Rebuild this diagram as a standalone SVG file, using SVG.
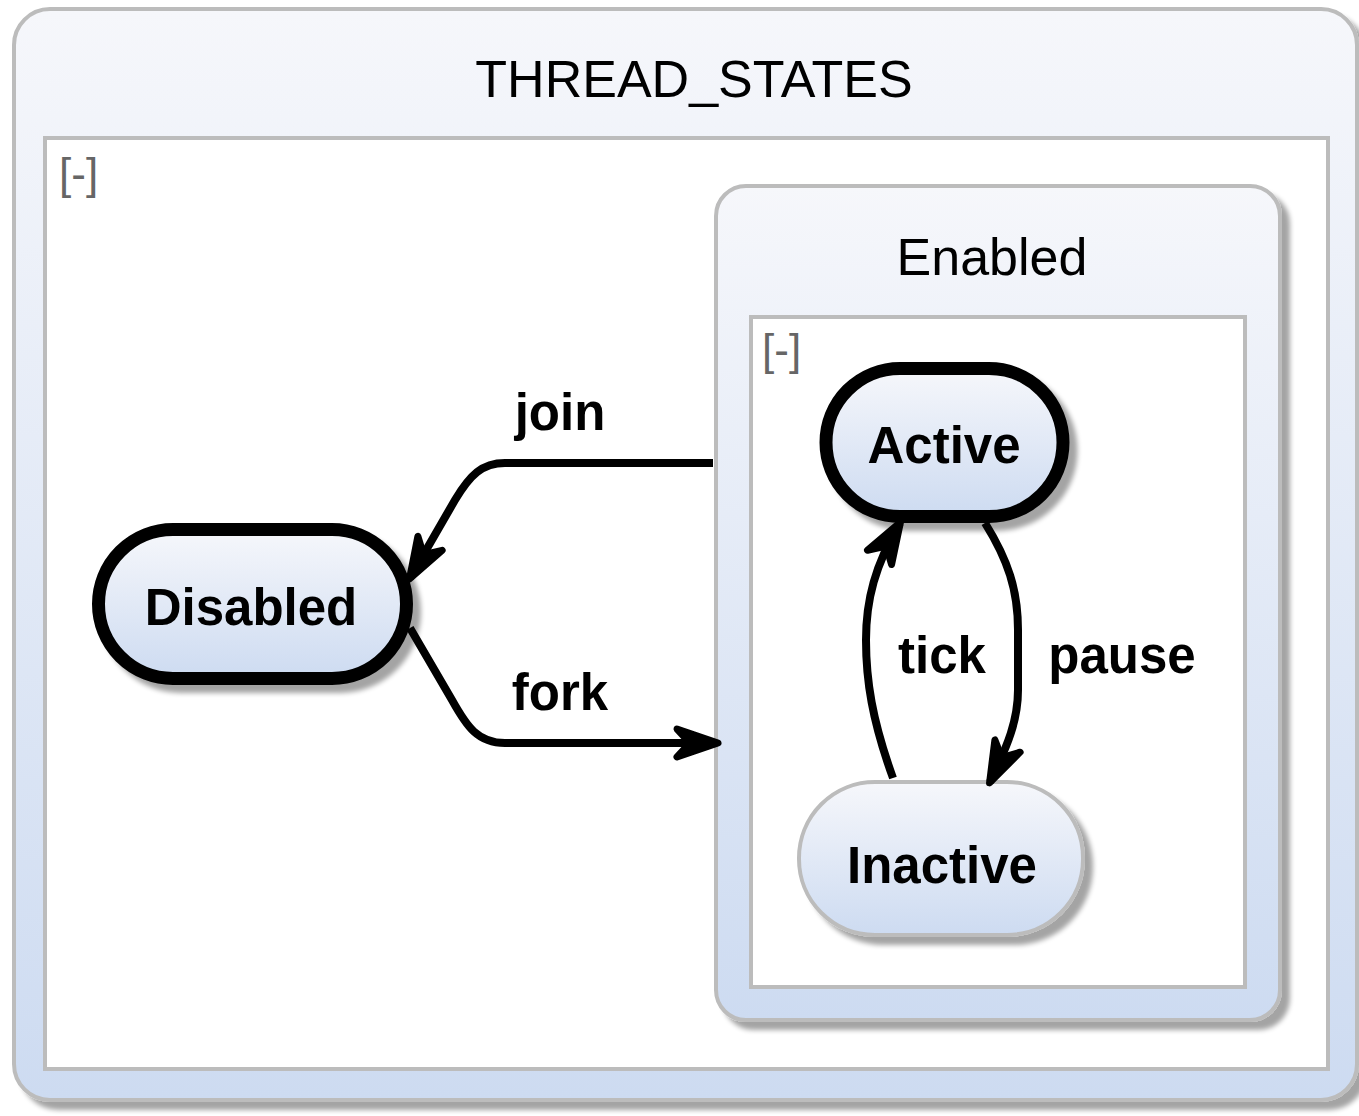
<svg xmlns="http://www.w3.org/2000/svg" width="1359" height="1116" viewBox="0 0 1359 1116">
  <defs>
    <linearGradient id="fillBlue" x1="0" y1="0" x2="0" y2="1">
      <stop offset="0" stop-color="#f6f7fb"/>
      <stop offset="1" stop-color="#cddbf1"/>
    </linearGradient>
    <filter id="shadow" x="-10%" y="-10%" width="130%" height="130%">
      <feGaussianBlur in="SourceAlpha" stdDeviation="2.5"/>
      <feOffset dx="8" dy="8" result="off"/>
      <feComponentTransfer>
        <feFuncA type="linear" slope="0.36"/>
      </feComponentTransfer>
      <feMerge>
        <feMergeNode/>
        <feMergeNode in="SourceGraphic"/>
      </feMerge>
    </filter>
    <marker id="arrow" markerUnits="userSpaceOnUse" orient="auto" refX="40" refY="0" markerWidth="60" markerHeight="40" overflow="visible">
      <path d="M41,0 L0,-14 L13,0 L0,14 Z" fill="#000" stroke="#000" stroke-width="7" stroke-linejoin="round"/>
    </marker>
    <style>
      .container { fill: url(#fillBlue); stroke: #bcbcbc; stroke-width: 4; }
      .region { fill: #ffffff; stroke: #bcbcbc; stroke-width: 4; }
      .state { fill: url(#fillBlue); stroke: #000; stroke-width: 13; }
      .state-plain { fill: url(#fillBlue); stroke: #bcbcbc; stroke-width: 4; }
      .title { font-family: "Liberation Sans", Arial, sans-serif; font-size: 52px; fill: #000; text-anchor: middle; }
      .toggle { font-family: "Liberation Sans", Arial, sans-serif; font-size: 44px; fill: #666; }
      .label { font-family: "Liberation Sans", Arial, sans-serif; font-size: 51px; font-weight: bold; fill: #000; text-anchor: middle; }
      .edge { fill: none; stroke: #000; stroke-width: 8; marker-end: url(#arrow); }
    </style>
  </defs>

  <!-- outer composite state -->
  <g id="thread-states">
    <rect class="container" x="14" y="9" width="1343" height="1091" rx="36" ry="36" filter="url(#shadow)"/>
    <text class="title" x="694" y="97">THREAD_STATES</text>
    <rect class="region" x="45" y="138" width="1283" height="931"/>
    <text class="toggle" x="59" y="189">[-]</text>
  </g>

  <!-- Enabled composite state -->
  <g id="enabled">
    <rect class="container" x="716" y="186" width="564" height="834" rx="30" ry="30" filter="url(#shadow)"/>
    <text class="title" x="992" y="275">Enabled</text>
    <rect class="region" x="751" y="317" width="494" height="670"/>
    <text class="toggle" x="762" y="365">[-]</text>
  </g>

  <g id="disabled">
    <rect class="state" x="98.5" y="529.5" width="308" height="149" rx="74.5" ry="74.5" filter="url(#shadow)"/>
    <text class="label" x="251" y="625">Disabled</text>
  </g>

  <g id="active">
    <rect class="state" x="826" y="368.5" width="237" height="148" rx="74" ry="74" filter="url(#shadow)"/>
    <text class="label" x="944" y="463">Active</text>
  </g>

  <g id="inactive">
    <rect class="state-plain" x="799" y="782" width="284" height="153" rx="76" ry="76" filter="url(#shadow)"/>
    <text class="label" x="942" y="883">Inactive</text>
  </g>

  <!-- transitions -->
  <g id="connectors">
    <path class="edge" d="M713,463 L505,463 C482,463 470,475 455,500 L410,578"/>
    <path class="edge" d="M410,628 L452,700 C467,727 478,743 505,743 L717,743"/>
    <path class="edge" d="M893,778 C872,720 866,680 866,640 C866,600 875,565 900,523"/>
    <path class="edge" d="M985,523 C1008,560 1018,590 1018,630 L1018,690 C1018,720 1008,745 990,782"/>
    <text class="label" x="560" y="430">join</text>
    <text class="label" x="560" y="710">fork</text>
    <text class="label" x="942" y="673">tick</text>
    <text class="label" x="1122" y="673">pause</text>
  </g>
</svg>
